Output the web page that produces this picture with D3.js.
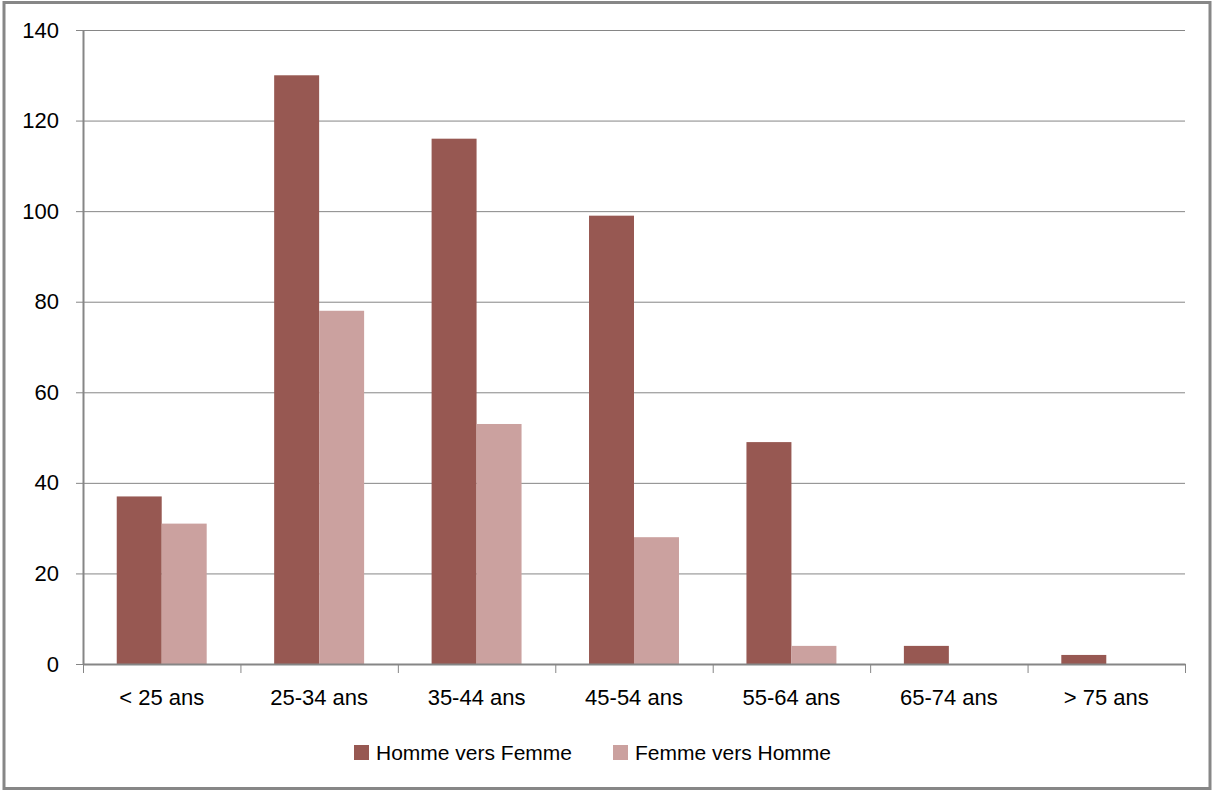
<!DOCTYPE html>
<html lang="fr">
<head>
<meta charset="UTF-8">
<title>Répartition par âge</title>
<script src="https://cdnjs.cloudflare.com/ajax/libs/d3/7.8.5/d3.min.js"></script>
<style>
    body { margin: 0; background: #fff; }
    svg { display: block; }
    .tick text { font-family: "Liberation Sans", Arial, sans-serif; fill: #000; }
</style>
</head>
<body>
<div id="chart"></div>
<script>
const categories = ["< 25 ans", "25-34 ans", "35-44 ans", "45-54 ans", "55-64 ans", "65-74 ans", "> 75 ans"];
const series = ["Homme vers Femme", "Femme vers Homme"];
const hommeVersFemme = [37, 130, 116, 99, 49, 4, 2];
const femmeVersHomme = [31, 78, 53, 28, 4, 0, 0];
const yTicks = [0, 20, 40, 60, 80, 100, 120, 140];

const values = [hommeVersFemme, femmeVersHomme];
const colors = ["#975852", "#cba19f"];

const W = 1213, H = 792;
const margin = {top: 30, right: 28, bottom: 128, left: 83};
const width = 1185 - margin.left;
const height = 664 - margin.top;

const svg = d3.select("#chart").append("svg")
    .attr("width", W).attr("height", H);

// outer frame
svg.append("rect")
    .attr("x", 4).attr("y", 2.5)
    .attr("width", 1206).attr("height", 786)
    .attr("fill", "#fff")
    .attr("stroke", "#878787").attr("stroke-width", 3);

const g = svg.append("g").attr("transform", `translate(${margin.left},${margin.top})`);

const x = d3.scaleBand().domain(categories).range([0, width]).paddingInner(0).paddingOuter(0);
const y = d3.scaleLinear().domain([0, 140]).range([height, 0]);

// gridlines
g.append("g").selectAll("line")
    .data(yTicks.slice(1))
    .join("line")
    .attr("x1", 0).attr("x2", width)
    .attr("y1", d => y(d) + 0.5).attr("y2", d => y(d) + 0.5)
    .attr("stroke", "#868686");

// bars: gap width 150%
const bw = x.bandwidth() / 3.5;
series.forEach((s, si) => {
    g.append("g").selectAll("rect")
        .data(values[si])
        .join("rect")
        .attr("x", (d, i) => x(categories[i]) + 0.75 * bw + si * bw)
        .attr("y", d => y(d))
        .attr("width", bw)
        .attr("height", d => y(0) - y(d))
        .attr("fill", colors[si]);
});

// y axis
const yAxis = g.append("g")
    .call(d3.axisLeft(y).tickValues(yTicks).tickSize(7).tickPadding(17).tickSizeOuter(0));
yAxis.selectAll("text").style("font-size", "22px");

// x axis
const xAxis = g.append("g")
    .attr("transform", `translate(0,${height})`)
    .call(d3.axisBottom(x).tickSize(0).tickPadding(25).tickSizeOuter(0));
xAxis.selectAll("text").style("font-size", "22px");
xAxis.selectAll(".tick line").remove();
xAxis.append("g").selectAll("line")
    .data(d3.range(categories.length + 1))
    .join("line")
    .attr("x1", i => i * x.bandwidth() + 0.5).attr("x2", i => i * x.bandwidth() + 0.5)
    .attr("y1", 0).attr("y2", 9)
    .attr("stroke", "#868686");

svg.selectAll(".domain").attr("stroke", "#868686").attr("stroke-width", 2);
svg.selectAll(".tick line").attr("stroke", "#868686");

// legend
const legendX = [354, 613];
const legend = svg.append("g");
series.forEach((s, si) => {
    legend.append("rect")
        .attr("x", legendX[si]).attr("y", 745)
        .attr("width", 15).attr("height", 15)
        .attr("fill", colors[si]);
    legend.append("text")
        .attr("x", legendX[si] + 22).attr("y", 760)
        .style("font-family", "Liberation Sans, Arial, sans-serif")
        .style("font-size", "21px")
        .attr("fill", "#000")
        .text(s);
});
</script>
</body>
</html>
